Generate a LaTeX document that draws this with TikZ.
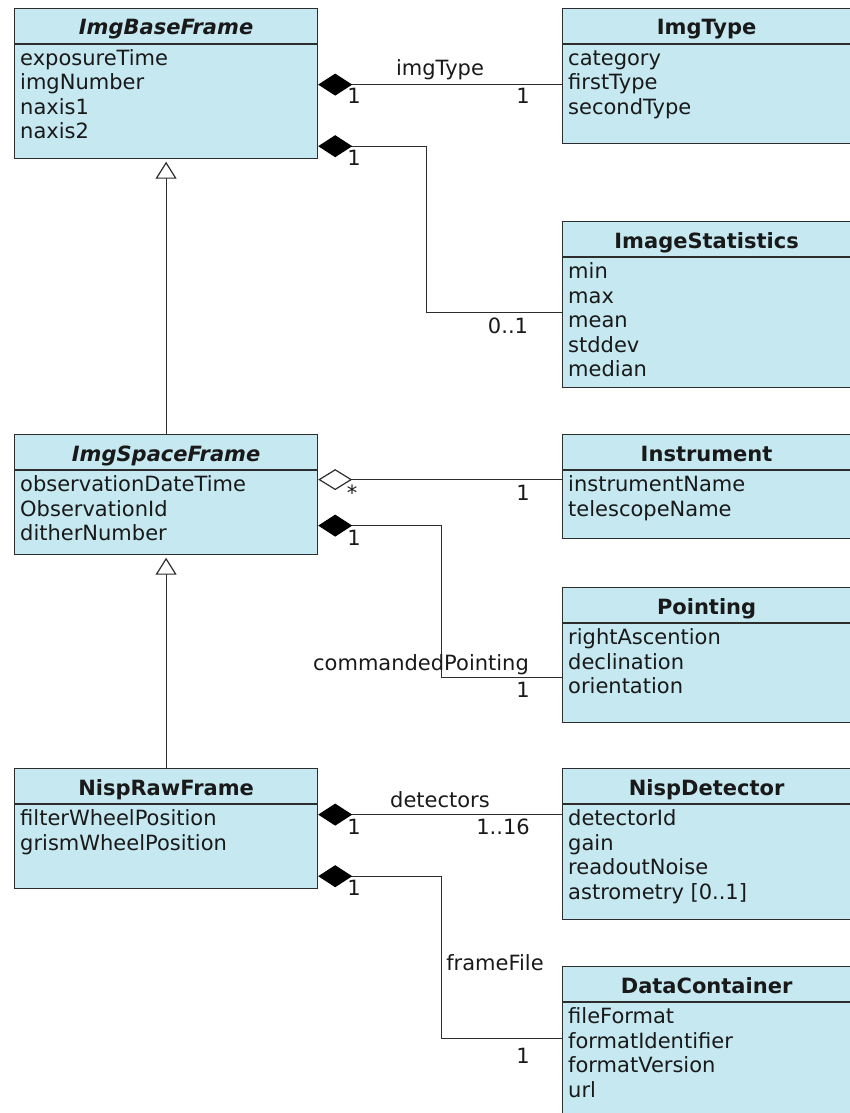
\documentclass[tikz,border=0pt]{standalone}
\usepackage{fontspec}
\setmainfont{DejaVu Sans}
\usetikzlibrary{arrows.meta}

\definecolor{classfill}{RGB}{197,232,241}
\definecolor{linecol}{RGB}{45,45,45}
\definecolor{textcol}{RGB}{25,25,25}

% class box: name, x, y, width, height, title, attributes
\newcommand{\umlclass}[7]{%
  \node[classbox, minimum width=#4, minimum height=#5] (#1) at (#2,#3) {};
  \draw[assoc] ([yshift=-36pt]#1.north west) -- ([yshift=-36pt]#1.north east);
  \node[classtitle] (#1-title) at ([yshift=-27pt]#1.north) {#6};
  \foreach \attr [count=\i] in {#7}
    \node[classattr] (#1-\i) at ([xshift=6pt,yshift={-57.5pt-(\i-1)*24.5pt}]#1.north west) {\attr};
}

\begin{document}
\begin{tikzpicture}[x=1pt,y=-1pt,
    font=\fontsize{21}{24.5}\selectfont, text=textcol,
    classbox/.style={draw=linecol,fill=classfill,line width=1.2pt,rectangle,inner sep=0pt,anchor=north west},
    classtitle/.style={anchor=base,inner sep=0pt,font=\fontsize{21}{24.5}\selectfont\bfseries},
    classattr/.style={anchor=base west,inner sep=0pt},
    lbl/.style={anchor=base,inner sep=0pt},
    assoc/.style={draw=linecol,line width=1.2pt},
    compo/.style={assoc,{Diamond[length=34pt,width=22pt,color=black]}-},
    aggr/.style={assoc,{Diamond[open,fill=white,length=34pt,width=21pt]}-},
    inherit/.style={assoc,-{Triangle[open,fill=white,length=17pt,width=21pt]},shorten >=2.5pt}]

  \useasboundingbox (0,0) rectangle (850,1113);

  % left column
  \umlclass{base}{14}{8}{303pt}{150pt}{\textit{ImgBaseFrame}}{exposureTime,imgNumber,naxis1,naxis2}
  \umlclass{space}{14}{434}{303pt}{120pt}{\textit{ImgSpaceFrame}}{observationDateTime,ObservationId,ditherNumber}
  \umlclass{raw}{14}{768}{303pt}{120pt}{NispRawFrame}{filterWheelPosition,grismWheelPosition}

  % right column
  \umlclass{type}{562}{8}{288pt}{135pt}{ImgType}{category,firstType,secondType}
  \umlclass{stats}{562}{221}{288pt}{166pt}{ImageStatistics}{min,max,mean,stddev,median}
  \umlclass{inst}{562}{434}{288pt}{104pt}{Instrument}{instrumentName,telescopeName}
  \umlclass{point}{562}{587}{288pt}{135pt}{Pointing}{rightAscention,declination,orientation}
  \umlclass{det}{562}{768}{288pt}{151pt}{NispDetector}{detectorId,gain,readoutNoise,{astrometry [0..1]}}
  \umlclass{data}{562}{966}{288pt}{152pt}{DataContainer}{fileFormat,formatIdentifier,formatVersion,url}

  % generalisations
  \draw[inherit] (space.north) -- (base.south);
  \draw[inherit] (raw.north) -- (space.south);

  % associations
  \draw[compo] ([yshift=-1pt]base.east) -- ([yshift=-1pt]base.east -| type.west);
  \node[lbl] (n-imgtype) at (440,76) {imgType};
  \node[lbl] (m-base1) at (354,104) {1};
  \node[lbl] (m-type) at (523,104) {1};

  \draw[compo] ([yshift=13pt]base.south east) -- ++(108,0) |- ([yshift=-8pt]stats.west);
  \node[lbl] (m-base2) at (354,165) {1};
  \node[lbl] (m-stats) at (508,333) {0..1};

  \draw[aggr] ([yshift=15pt]space.east) -- ([yshift=15pt]space.east -| inst.west);
  \node[lbl] (m-space1) at (352,500) {*};
  \node[lbl] (m-inst) at (523,500) {1};

  \draw[compo] ([yshift=-31pt]space.east) -- ++(123,0) |- ([yshift=-22.5pt]point.west);
  \node[lbl] (n-pointing) at (421,670) {commandedPointing};
  \node[lbl] (m-space2) at (354,545) {1};
  \node[lbl] (m-point) at (523,697) {1};

  \draw[compo] ([yshift=14pt]raw.east) -- ([yshift=14pt]raw.east -| det.west);
  \node[lbl] (n-detectors) at (440,807) {detectors};
  \node[lbl] (m-raw1) at (354,834) {1};
  \node[lbl] (m-det) at (503,834) {1..16};

  \draw[compo] ([yshift=13pt]raw.south east) -- ++(123,0) |- ([yshift=4pt]data.west);
  \node[lbl] (n-framefile) at (495,970) {frameFile};
  \node[lbl] (m-raw2) at (354,895) {1};
  \node[lbl] (m-data) at (523,1063) {1};

\end{tikzpicture}
\end{document}
